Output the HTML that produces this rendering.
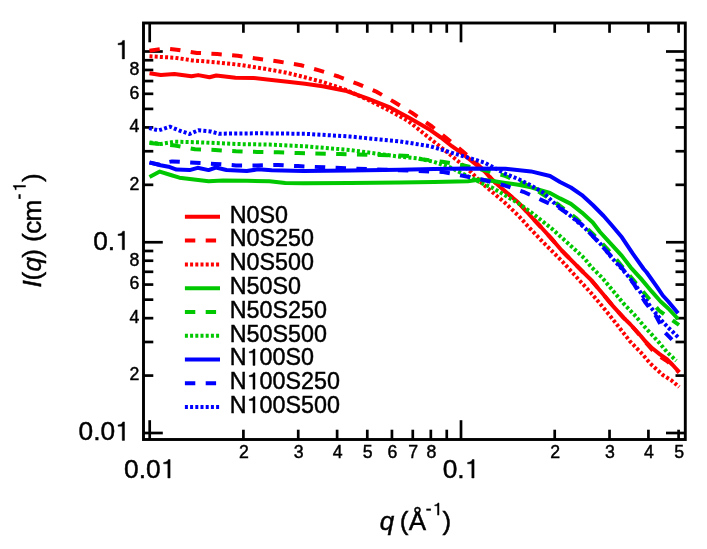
<!DOCTYPE html><html><head><meta charset="utf-8"><style>html,body{margin:0;padding:0;background:#fff;}svg{display:block;will-change:transform}text{font-family:"Liberation Sans",sans-serif;font-kerning:none;fill:#000;stroke:#000;stroke-width:0.45px}</style></head><body>
<svg width="707" height="549" viewBox="0 0 707 549">
<rect width="707" height="549" fill="#fff"/>
<g stroke="#000" fill="none">
<rect x="143.5" y="23.0" width="541.8" height="416.5" stroke-width="2.9"/>
<line x1="143.5" y1="51.50" x2="162.80" y2="51.50" stroke-width="2.7"/>
<line x1="685.3" y1="51.50" x2="666.00" y2="51.50" stroke-width="2.7"/>
<line x1="143.5" y1="242.25" x2="162.80" y2="242.25" stroke-width="2.7"/>
<line x1="685.3" y1="242.25" x2="666.00" y2="242.25" stroke-width="2.7"/>
<line x1="143.5" y1="184.83" x2="153.30" y2="184.83" stroke-width="2.7"/>
<line x1="685.3" y1="184.83" x2="675.50" y2="184.83" stroke-width="2.7"/>
<line x1="143.5" y1="151.24" x2="153.30" y2="151.24" stroke-width="2.7"/>
<line x1="685.3" y1="151.24" x2="675.50" y2="151.24" stroke-width="2.7"/>
<line x1="143.5" y1="127.41" x2="153.30" y2="127.41" stroke-width="2.7"/>
<line x1="685.3" y1="127.41" x2="675.50" y2="127.41" stroke-width="2.7"/>
<line x1="143.5" y1="108.92" x2="153.30" y2="108.92" stroke-width="2.7"/>
<line x1="685.3" y1="108.92" x2="675.50" y2="108.92" stroke-width="2.7"/>
<line x1="143.5" y1="93.82" x2="153.30" y2="93.82" stroke-width="2.7"/>
<line x1="685.3" y1="93.82" x2="675.50" y2="93.82" stroke-width="2.7"/>
<line x1="143.5" y1="81.05" x2="153.30" y2="81.05" stroke-width="2.7"/>
<line x1="685.3" y1="81.05" x2="675.50" y2="81.05" stroke-width="2.7"/>
<line x1="143.5" y1="69.99" x2="153.30" y2="69.99" stroke-width="2.7"/>
<line x1="685.3" y1="69.99" x2="675.50" y2="69.99" stroke-width="2.7"/>
<line x1="143.5" y1="60.23" x2="153.30" y2="60.23" stroke-width="2.7"/>
<line x1="685.3" y1="60.23" x2="675.50" y2="60.23" stroke-width="2.7"/>
<line x1="143.5" y1="433.00" x2="162.80" y2="433.00" stroke-width="2.7"/>
<line x1="685.3" y1="433.00" x2="666.00" y2="433.00" stroke-width="2.7"/>
<line x1="143.5" y1="375.58" x2="153.30" y2="375.58" stroke-width="2.7"/>
<line x1="685.3" y1="375.58" x2="675.50" y2="375.58" stroke-width="2.7"/>
<line x1="143.5" y1="341.99" x2="153.30" y2="341.99" stroke-width="2.7"/>
<line x1="685.3" y1="341.99" x2="675.50" y2="341.99" stroke-width="2.7"/>
<line x1="143.5" y1="318.16" x2="153.30" y2="318.16" stroke-width="2.7"/>
<line x1="685.3" y1="318.16" x2="675.50" y2="318.16" stroke-width="2.7"/>
<line x1="143.5" y1="299.67" x2="153.30" y2="299.67" stroke-width="2.7"/>
<line x1="685.3" y1="299.67" x2="675.50" y2="299.67" stroke-width="2.7"/>
<line x1="143.5" y1="284.57" x2="153.30" y2="284.57" stroke-width="2.7"/>
<line x1="685.3" y1="284.57" x2="675.50" y2="284.57" stroke-width="2.7"/>
<line x1="143.5" y1="271.80" x2="153.30" y2="271.80" stroke-width="2.7"/>
<line x1="685.3" y1="271.80" x2="675.50" y2="271.80" stroke-width="2.7"/>
<line x1="143.5" y1="260.74" x2="153.30" y2="260.74" stroke-width="2.7"/>
<line x1="685.3" y1="260.74" x2="675.50" y2="260.74" stroke-width="2.7"/>
<line x1="143.5" y1="250.98" x2="153.30" y2="250.98" stroke-width="2.7"/>
<line x1="685.3" y1="250.98" x2="675.50" y2="250.98" stroke-width="2.7"/>
<line x1="149.70" y1="439.5" x2="149.70" y2="420.20" stroke-width="2.7"/>
<line x1="149.70" y1="23.0" x2="149.70" y2="42.30" stroke-width="2.7"/>
<line x1="243.41" y1="439.5" x2="243.41" y2="429.70" stroke-width="2.7"/>
<line x1="243.41" y1="23.0" x2="243.41" y2="32.80" stroke-width="2.7"/>
<line x1="298.23" y1="439.5" x2="298.23" y2="429.70" stroke-width="2.7"/>
<line x1="298.23" y1="23.0" x2="298.23" y2="32.80" stroke-width="2.7"/>
<line x1="337.12" y1="439.5" x2="337.12" y2="429.70" stroke-width="2.7"/>
<line x1="337.12" y1="23.0" x2="337.12" y2="32.80" stroke-width="2.7"/>
<line x1="367.29" y1="439.5" x2="367.29" y2="429.70" stroke-width="2.7"/>
<line x1="367.29" y1="23.0" x2="367.29" y2="32.80" stroke-width="2.7"/>
<line x1="391.94" y1="439.5" x2="391.94" y2="429.70" stroke-width="2.7"/>
<line x1="391.94" y1="23.0" x2="391.94" y2="32.80" stroke-width="2.7"/>
<line x1="412.78" y1="439.5" x2="412.78" y2="429.70" stroke-width="2.7"/>
<line x1="412.78" y1="23.0" x2="412.78" y2="32.80" stroke-width="2.7"/>
<line x1="430.83" y1="439.5" x2="430.83" y2="429.70" stroke-width="2.7"/>
<line x1="430.83" y1="23.0" x2="430.83" y2="32.80" stroke-width="2.7"/>
<line x1="446.76" y1="439.5" x2="446.76" y2="429.70" stroke-width="2.7"/>
<line x1="446.76" y1="23.0" x2="446.76" y2="32.80" stroke-width="2.7"/>
<line x1="461.00" y1="439.5" x2="461.00" y2="420.20" stroke-width="2.7"/>
<line x1="461.00" y1="23.0" x2="461.00" y2="42.30" stroke-width="2.7"/>
<line x1="554.71" y1="439.5" x2="554.71" y2="429.70" stroke-width="2.7"/>
<line x1="554.71" y1="23.0" x2="554.71" y2="32.80" stroke-width="2.7"/>
<line x1="609.53" y1="439.5" x2="609.53" y2="429.70" stroke-width="2.7"/>
<line x1="609.53" y1="23.0" x2="609.53" y2="32.80" stroke-width="2.7"/>
<line x1="648.42" y1="439.5" x2="648.42" y2="429.70" stroke-width="2.7"/>
<line x1="648.42" y1="23.0" x2="648.42" y2="32.80" stroke-width="2.7"/>
<line x1="678.59" y1="439.5" x2="678.59" y2="429.70" stroke-width="2.7"/>
<line x1="678.59" y1="23.0" x2="678.59" y2="32.80" stroke-width="2.7"/>
</g>
<g fill="none" stroke-width="4" stroke-linejoin="round">
<path d="M149.5,73.3 L160.8,75.1 L174.4,73.9 L191.4,76.2 L198.2,75.1 L209.5,77.3 L216.3,75.5 L235.5,77.8 L253.6,78.0 L271.7,80.1 L289.8,81.9 L305.0,83.7 L322.6,86.2 L345.3,90.7 L367.9,98.7 L390.5,107.7 L408.6,117.5 L430.0,129.8 L440.9,137.5 L451.9,146.2 L462.8,153.9 L473.7,162.6 L484.6,171.4 L492.8,180.3 L505.5,191.8 L518.3,202.5 L533.3,219.0 L540.9,227.0 L551.9,239.2 L562.8,251.7 L573.7,262.6 L584.6,273.6 L590.9,279.7 L601.9,292.8 L612.8,305.9 L623.7,317.9 L630.0,324.0 L640.9,336.0 L645.0,341.0 L652.3,348.3 L659.6,354.1 L666.9,359.2 L672.7,365.0 L679.2,372.2" stroke="#ff0000"/>
<path d="M149.5,50.8 L160.0,49.1 L165.0,48.5 L176.7,49.7 L197.0,52.9 L217.4,54.0 L237.8,55.8 L258.1,58.8 L278.5,61.5 L301.1,65.3 L319.2,70.4 L338.5,76.5 L357.7,83.9 L376.9,91.9 L395.0,102.5 L412.0,112.9 L432.0,126.5 L446.4,138.0 L461.7,150.6 L476.0,163.0 L484.6,171.2 L492.8,180.3 L505.5,191.8 L518.3,202.5 L533.3,219.0 L540.9,227.0 L551.9,239.2 L562.8,251.7 L573.7,262.6 L584.6,273.6 L590.9,279.7 L601.9,292.8 L612.8,305.9 L623.7,317.9 L630.0,324.0 L640.9,336.3 L645.0,341.5 L652.3,350.0 L659.6,356.5 L666.9,361.0 L672.7,366.0 L679.2,372.5" stroke="#ff0000" stroke-dasharray="10.4 10.4"/>
<path d="M149.5,56.3 L174.4,57.7 L192.5,60.4 L215.2,62.2 L240.0,64.9 L265.0,68.8 L285.3,72.5 L300.0,76.0 L322.6,82.0 L345.3,89.6 L367.9,99.8 L390.5,111.1 L408.6,121.3 L417.0,128.0 L430.0,138.6 L440.9,147.3 L451.9,156.1 L458.4,161.5 L471.5,172.5 L480.0,181.5 L492.8,192.5 L505.5,203.3 L518.3,215.5 L530.0,228.5 L540.9,240.0 L551.9,251.0 L562.8,262.0 L573.7,274.0 L580.0,281.0 L590.9,292.8 L601.9,305.9 L611.7,317.9 L620.0,328.5 L630.0,341.3 L640.9,352.5 L649.4,362.5 L651.9,365.1 L662.8,375.0 L671.5,380.4 L679.2,387.0" stroke="#ff0000" stroke-dasharray="3 2.2"/>
<path d="M149.5,177.0 L159.8,171.6 L170.7,175.0 L179.4,177.7 L194.0,179.6 L208.6,181.3 L223.0,180.6 L246.8,180.8 L269.5,181.3 L285.3,182.9 L303.4,183.2 L350.0,183.0 L400.0,182.4 L434.0,182.0 L467.9,181.2 L480.0,179.5 L492.8,181.0 L505.5,182.9 L518.3,184.8 L531.0,187.3 L550.0,193.0 L560.0,198.4 L570.9,203.9 L581.9,212.6 L592.8,222.5 L600.0,232.0 L610.9,243.9 L621.9,255.9 L630.6,267.3 L640.9,278.6 L651.9,291.7 L660.6,301.5 L668.3,308.5 L678.1,319.0" stroke="#00c800"/>
<path d="M149.5,143.0 L175.0,145.6 L195.0,149.2 L215.0,150.0 L236.0,151.2 L257.0,151.9 L278.0,152.3 L298.0,153.0 L340.0,154.0 L380.0,155.0 L410.0,156.0 L422.0,159.2 L442.4,161.8 L462.8,165.2 L484.0,170.0 L504.0,175.5 L524.0,183.5 L540.0,192.5 L559.0,205.0 L576.0,218.0 L595.0,236.0 L612.0,254.0 L630.0,276.0 L645.0,294.0 L659.0,310.5 L668.0,317.0 L679.0,325.0" stroke="#00c800" stroke-dasharray="10.4 10.4"/>
<path d="M149.5,142.4 L160.8,144.0 L174.4,141.7 L201.6,142.4 L235.5,144.0 L269.5,144.6 L303.4,146.2 L350.0,150.0 L400.0,156.7 L417.0,158.4 L434.0,161.8 L450.9,167.7 L467.9,176.2 L483.8,184.1 L492.8,188.0 L505.5,195.6 L518.3,203.3 L531.0,212.2 L540.9,220.0 L551.9,228.7 L562.8,238.6 L573.7,248.4 L584.6,258.5 L590.9,266.6 L601.9,277.5 L612.8,290.6 L623.7,303.7 L634.6,315.0 L645.0,327.2 L652.3,335.2 L659.6,343.2 L666.9,352.0 L676.3,360.7" stroke="#00c800" stroke-dasharray="3 2.2"/>
<path d="M149.5,162.4 L160.5,165.3 L168.5,166.7 L176.5,169.6 L189.6,170.1 L197.6,167.8 L208.6,170.1 L215.9,167.5 L226.5,170.0 L246.8,171.1 L258.1,169.3 L271.7,170.2 L303.4,171.1 L350.0,170.5 L400.0,169.8 L434.0,169.1 L467.9,168.4 L505.5,168.8 L531.0,171.4 L550.0,176.0 L560.0,182.0 L570.9,187.5 L581.9,195.1 L592.8,205.0 L603.7,216.0 L610.9,224.2 L621.9,237.3 L632.8,253.7 L643.7,269.0 L646.4,272.0 L657.3,287.3 L662.8,295.5 L668.3,301.5 L678.1,313.3" stroke="#0000ff"/>
<path d="M149.5,162.6 L160.5,165.0 L166.0,162.5 L172.0,161.4 L195.0,162.7 L215.0,163.9 L236.0,165.4 L257.0,165.4 L278.0,165.0 L298.0,166.1 L350.0,168.5 L400.0,170.3 L442.0,171.9 L463.0,175.7 L483.8,180.0 L503.6,185.1 L523.4,191.8 L541.8,200.1 L560.0,208.3 L570.9,215.9 L581.9,224.6 L600.0,243.9 L610.9,255.9 L621.9,267.9 L634.6,285.1 L645.0,302.0 L656.0,316.0 L664.7,332.3 L672.0,339.6" stroke="#0000ff" stroke-dasharray="10.4 10.4"/>
<path d="M149.1,128.1 L158.6,130.4 L170.0,126.7 L179.0,130.4 L189.6,134.0 L198.4,130.3 L210.6,131.5 L218.8,133.7 L260.0,133.3 L305.0,133.8 L350.0,136.5 L400.0,141.4 L430.0,146.2 L440.9,149.5 L451.9,152.8 L462.8,156.1 L473.7,159.3 L484.6,162.6 L505.5,173.9 L518.3,179.0 L531.0,185.4 L543.8,193.0 L553.0,202.0 L568.3,214.0 L584.8,228.0 L598.9,242.1 L612.8,259.0 L623.7,270.9 L634.6,284.0 L651.9,308.7 L662.8,321.9 L668.1,327.5 L673.7,332.8 L679.2,338.3" stroke="#0000ff" stroke-dasharray="3 2.2"/>
</g>
<g fill="#000" stroke="#000">
<path transform="translate(115.07,58.90) scale(0.02630,-0.02630)" d="M359,0 L359,703 L291,703 C274,640 240,602 112,590 L112,538 L272,538 L272,0 Z" stroke-width="17.11"/>
<text x="93.14" y="249.65" font-size="26.3">0.</text>
<path transform="translate(115.07,249.65) scale(0.02630,-0.02630)" d="M359,0 L359,703 L291,703 C274,640 240,602 112,590 L112,538 L272,538 L272,0 Z" stroke-width="17.11"/>
<text x="78.51" y="440.40" font-size="26.3">0.0</text>
<path transform="translate(115.07,440.40) scale(0.02630,-0.02630)" d="M359,0 L359,703 L291,703 C274,640 240,602 112,590 L112,538 L272,538 L272,0 Z" stroke-width="17.11"/>
<text x="129.46" y="189.63" font-size="17.7">2</text>
<text x="129.46" y="132.21" font-size="17.7">4</text>
<text x="129.46" y="98.62" font-size="17.7">6</text>
<text x="129.46" y="74.79" font-size="17.7">8</text>
<text x="129.46" y="380.38" font-size="17.7">2</text>
<text x="129.46" y="322.96" font-size="17.7">4</text>
<text x="129.46" y="289.37" font-size="17.7">6</text>
<text x="129.46" y="265.54" font-size="17.7">8</text>
<text x="124.11" y="478.00" font-size="26.3">0.0</text>
<path transform="translate(160.67,478.00) scale(0.02630,-0.02630)" d="M359,0 L359,703 L291,703 C274,640 240,602 112,590 L112,538 L272,538 L272,0 Z" stroke-width="17.11"/>
<text x="442.72" y="478.00" font-size="26.3">0.</text>
<path transform="translate(464.65,478.00) scale(0.02630,-0.02630)" d="M359,0 L359,703 L291,703 C274,640 240,602 112,590 L112,538 L272,538 L272,0 Z" stroke-width="17.11"/>
<text x="238.99" y="458.20" font-size="17.7">2</text>
<text x="293.81" y="458.20" font-size="17.7">3</text>
<text x="332.70" y="458.20" font-size="17.7">4</text>
<text x="362.87" y="458.20" font-size="17.7">5</text>
<text x="387.52" y="458.20" font-size="17.7">6</text>
<text x="408.36" y="458.20" font-size="17.7">7</text>
<text x="426.41" y="458.20" font-size="17.7">8</text>
<text x="550.29" y="458.20" font-size="17.7">2</text>
<text x="605.11" y="458.20" font-size="17.7">3</text>
<text x="644.00" y="458.20" font-size="17.7">4</text>
<text x="674.17" y="458.20" font-size="17.7">5</text>
<text x="379.72" y="530.20" font-size="26" font-style="italic">q</text>
<text x="399.79" y="530.30" font-size="26">(</text>
<text x="408.85" y="530.40" font-size="26">Å</text>
<text x="425.72" y="515.15" font-size="17.5">-</text>
<path transform="translate(432.79,515.10) scale(0.01730,-0.01730)" d="M359,0 L359,703 L291,703 C274,640 240,602 112,590 L112,538 L272,538 L272,0 Z" stroke-width="26.01"/>
<text x="442.55" y="530.30" font-size="26">)</text>
<g transform="translate(40.7,290) rotate(-90)"><text x="2.47" y="0.00" font-size="26" font-style="italic">I</text>
<text x="9.59" y="0.00" font-size="26">(</text>
<text x="18.52" y="0.00" font-size="26" font-style="italic">q</text>
<text x="32.35" y="0.00" font-size="26">)</text>
<text x="47.99" y="0.00" font-size="26">(</text>
<text x="56.20" y="0.00" font-size="26">c</text>
<text x="68.57" y="0.00" font-size="26">m</text>
<text x="90.52" y="-15.75" font-size="17.5">-</text>
<path transform="translate(98.29,-15.20) scale(0.01730,-0.01730)" d="M359,0 L359,703 L291,703 C274,640 240,602 112,590 L112,538 L272,538 L272,0 Z" stroke-width="26.01"/>
<text x="108.05" y="0.00" font-size="26">)</text></g>
<line x1="184.9" y1="216.80" x2="220" y2="216.80" stroke="#ff0000" stroke-width="4"/>
<text x="229.80" y="222.65" font-size="23.3">N0S0</text>
<line x1="184.9" y1="240.59" x2="220" y2="240.59" stroke="#ff0000" stroke-width="4" stroke-dasharray="10.4 10.4"/>
<text x="229.80" y="246.44" font-size="23.3">N0S250</text>
<line x1="184.9" y1="264.38" x2="220" y2="264.38" stroke="#ff0000" stroke-width="4" stroke-dasharray="3 2.2"/>
<text x="229.80" y="270.23" font-size="23.3">N0S500</text>
<line x1="184.9" y1="288.17" x2="220" y2="288.17" stroke="#00c800" stroke-width="4"/>
<text x="229.80" y="294.02" font-size="23.3">N50S0</text>
<line x1="184.9" y1="311.96" x2="220" y2="311.96" stroke="#00c800" stroke-width="4" stroke-dasharray="10.4 10.4"/>
<text x="229.80" y="317.81" font-size="23.3">N50S250</text>
<line x1="184.9" y1="335.75" x2="220" y2="335.75" stroke="#00c800" stroke-width="4" stroke-dasharray="3 2.2"/>
<text x="229.80" y="341.60" font-size="23.3">N50S500</text>
<line x1="184.9" y1="359.54" x2="220" y2="359.54" stroke="#0000ff" stroke-width="4"/>
<text x="229.80" y="365.39" font-size="23.3">N</text>
<path transform="translate(246.63,365.39) scale(0.02330,-0.02330)" d="M359,0 L359,703 L291,703 C274,640 240,602 112,590 L112,538 L272,538 L272,0 Z" stroke-width="19.31"/>
<text x="259.58" y="365.39" font-size="23.3">00S0</text>
<line x1="184.9" y1="383.33" x2="220" y2="383.33" stroke="#0000ff" stroke-width="4" stroke-dasharray="10.4 10.4"/>
<text x="229.80" y="389.18" font-size="23.3">N</text>
<path transform="translate(246.63,389.18) scale(0.02330,-0.02330)" d="M359,0 L359,703 L291,703 C274,640 240,602 112,590 L112,538 L272,538 L272,0 Z" stroke-width="19.31"/>
<text x="259.58" y="389.18" font-size="23.3">00S250</text>
<line x1="184.9" y1="407.12" x2="220" y2="407.12" stroke="#0000ff" stroke-width="4" stroke-dasharray="3 2.2"/>
<text x="229.80" y="412.97" font-size="23.3">N</text>
<path transform="translate(246.63,412.97) scale(0.02330,-0.02330)" d="M359,0 L359,703 L291,703 C274,640 240,602 112,590 L112,538 L272,538 L272,0 Z" stroke-width="19.31"/>
<text x="259.58" y="412.97" font-size="23.3">00S500</text>
</g>
</svg></body></html>
